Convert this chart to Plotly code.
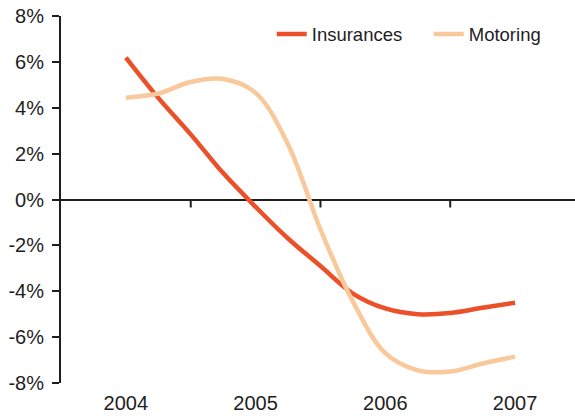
import plotly.graph_objects as go

# Quarterly observations, year-on-year change (%)
quarters = [2004.0, 2004.25, 2004.5, 2004.75, 2005.0, 2005.25, 2005.5,
            2005.75, 2006.0, 2006.25, 2006.5, 2006.75, 2007.0]
insurances = [6.19, 4.43, 2.84, 1.15, -0.32, -1.7, -2.9,
              -4.1, -4.75, -5.0, -4.95, -4.72, -4.5]
motoring = [4.44, 4.62, 5.12, 5.25, 4.65, 2.4, -1.3,
            -4.45, -6.7, -7.45, -7.5, -7.15, -6.85]

years = [2004, 2005, 2006, 2007]
year_labels = ["2004", "2005", "2006", "2007"]
year_bounds = [2004.5, 2005.5, 2006.5]
y_ticks = [-8, -6, -4, -2, 0, 2, 4, 6, 8]
y_labels = [f"{v}%" for v in y_ticks]

RED = "#EC5029"
PEACH = "#F9C99B"
INK = "#1e1e1e"
FONT = "Liberation Sans, Arial, sans-serif"

fig = go.Figure()
fig.add_trace(go.Scatter(
    x=quarters, y=insurances, name="Insurances", mode="lines",
    line=dict(color=RED, width=4.5, shape="spline", smoothing=1.0),
))
fig.add_trace(go.Scatter(
    x=quarters, y=motoring, name="Motoring", mode="lines",
    line=dict(color=PEACH, width=4.5, shape="spline", smoothing=1.0),
))

# small downward ticks on the zero line separating the years
for b in year_bounds:
    fig.add_shape(
        type="line", xref="x", yref="y", ysizemode="pixel", yanchor=0,
        x0=b, x1=b, y0=0, y1=-8,
        line=dict(color=INK, width=2), layer="above",
    )

fig.update_layout(
    width=575, height=416,
    margin=dict(l=61, r=0, t=16, b=33, autoexpand=False),
    paper_bgcolor="white", plot_bgcolor="white",
    font=dict(family=FONT, size=20, color=INK),
    showlegend=True,
    legend=dict(
        orientation="h", x=0.41, y=0.95, xanchor="left", yanchor="middle",
        font=dict(size=18.5, color=INK), bgcolor="rgba(0,0,0,0)",
        itemwidth=30, tracegroupgap=0,
        entrywidth=112, entrywidthmode="pixels",
    ),
    xaxis=dict(
        range=[2003.5, 2007.462],
        tickmode="array", tickvals=years, ticktext=year_labels,
        ticks="", showline=False, showgrid=False, zeroline=False,
        ticklabelstandoff=6,
    ),
    yaxis=dict(
        range=[-8, 8],
        tickmode="array", tickvals=y_ticks, ticktext=y_labels,
        ticks="outside", ticklen=7, tickwidth=2, tickcolor=INK,
        showline=True, linewidth=2, linecolor=INK,
        showgrid=False,
        zeroline=True, zerolinewidth=2, zerolinecolor=INK,
        ticklabelstandoff=4,
    ),
)

fig.write_html("out.html")
